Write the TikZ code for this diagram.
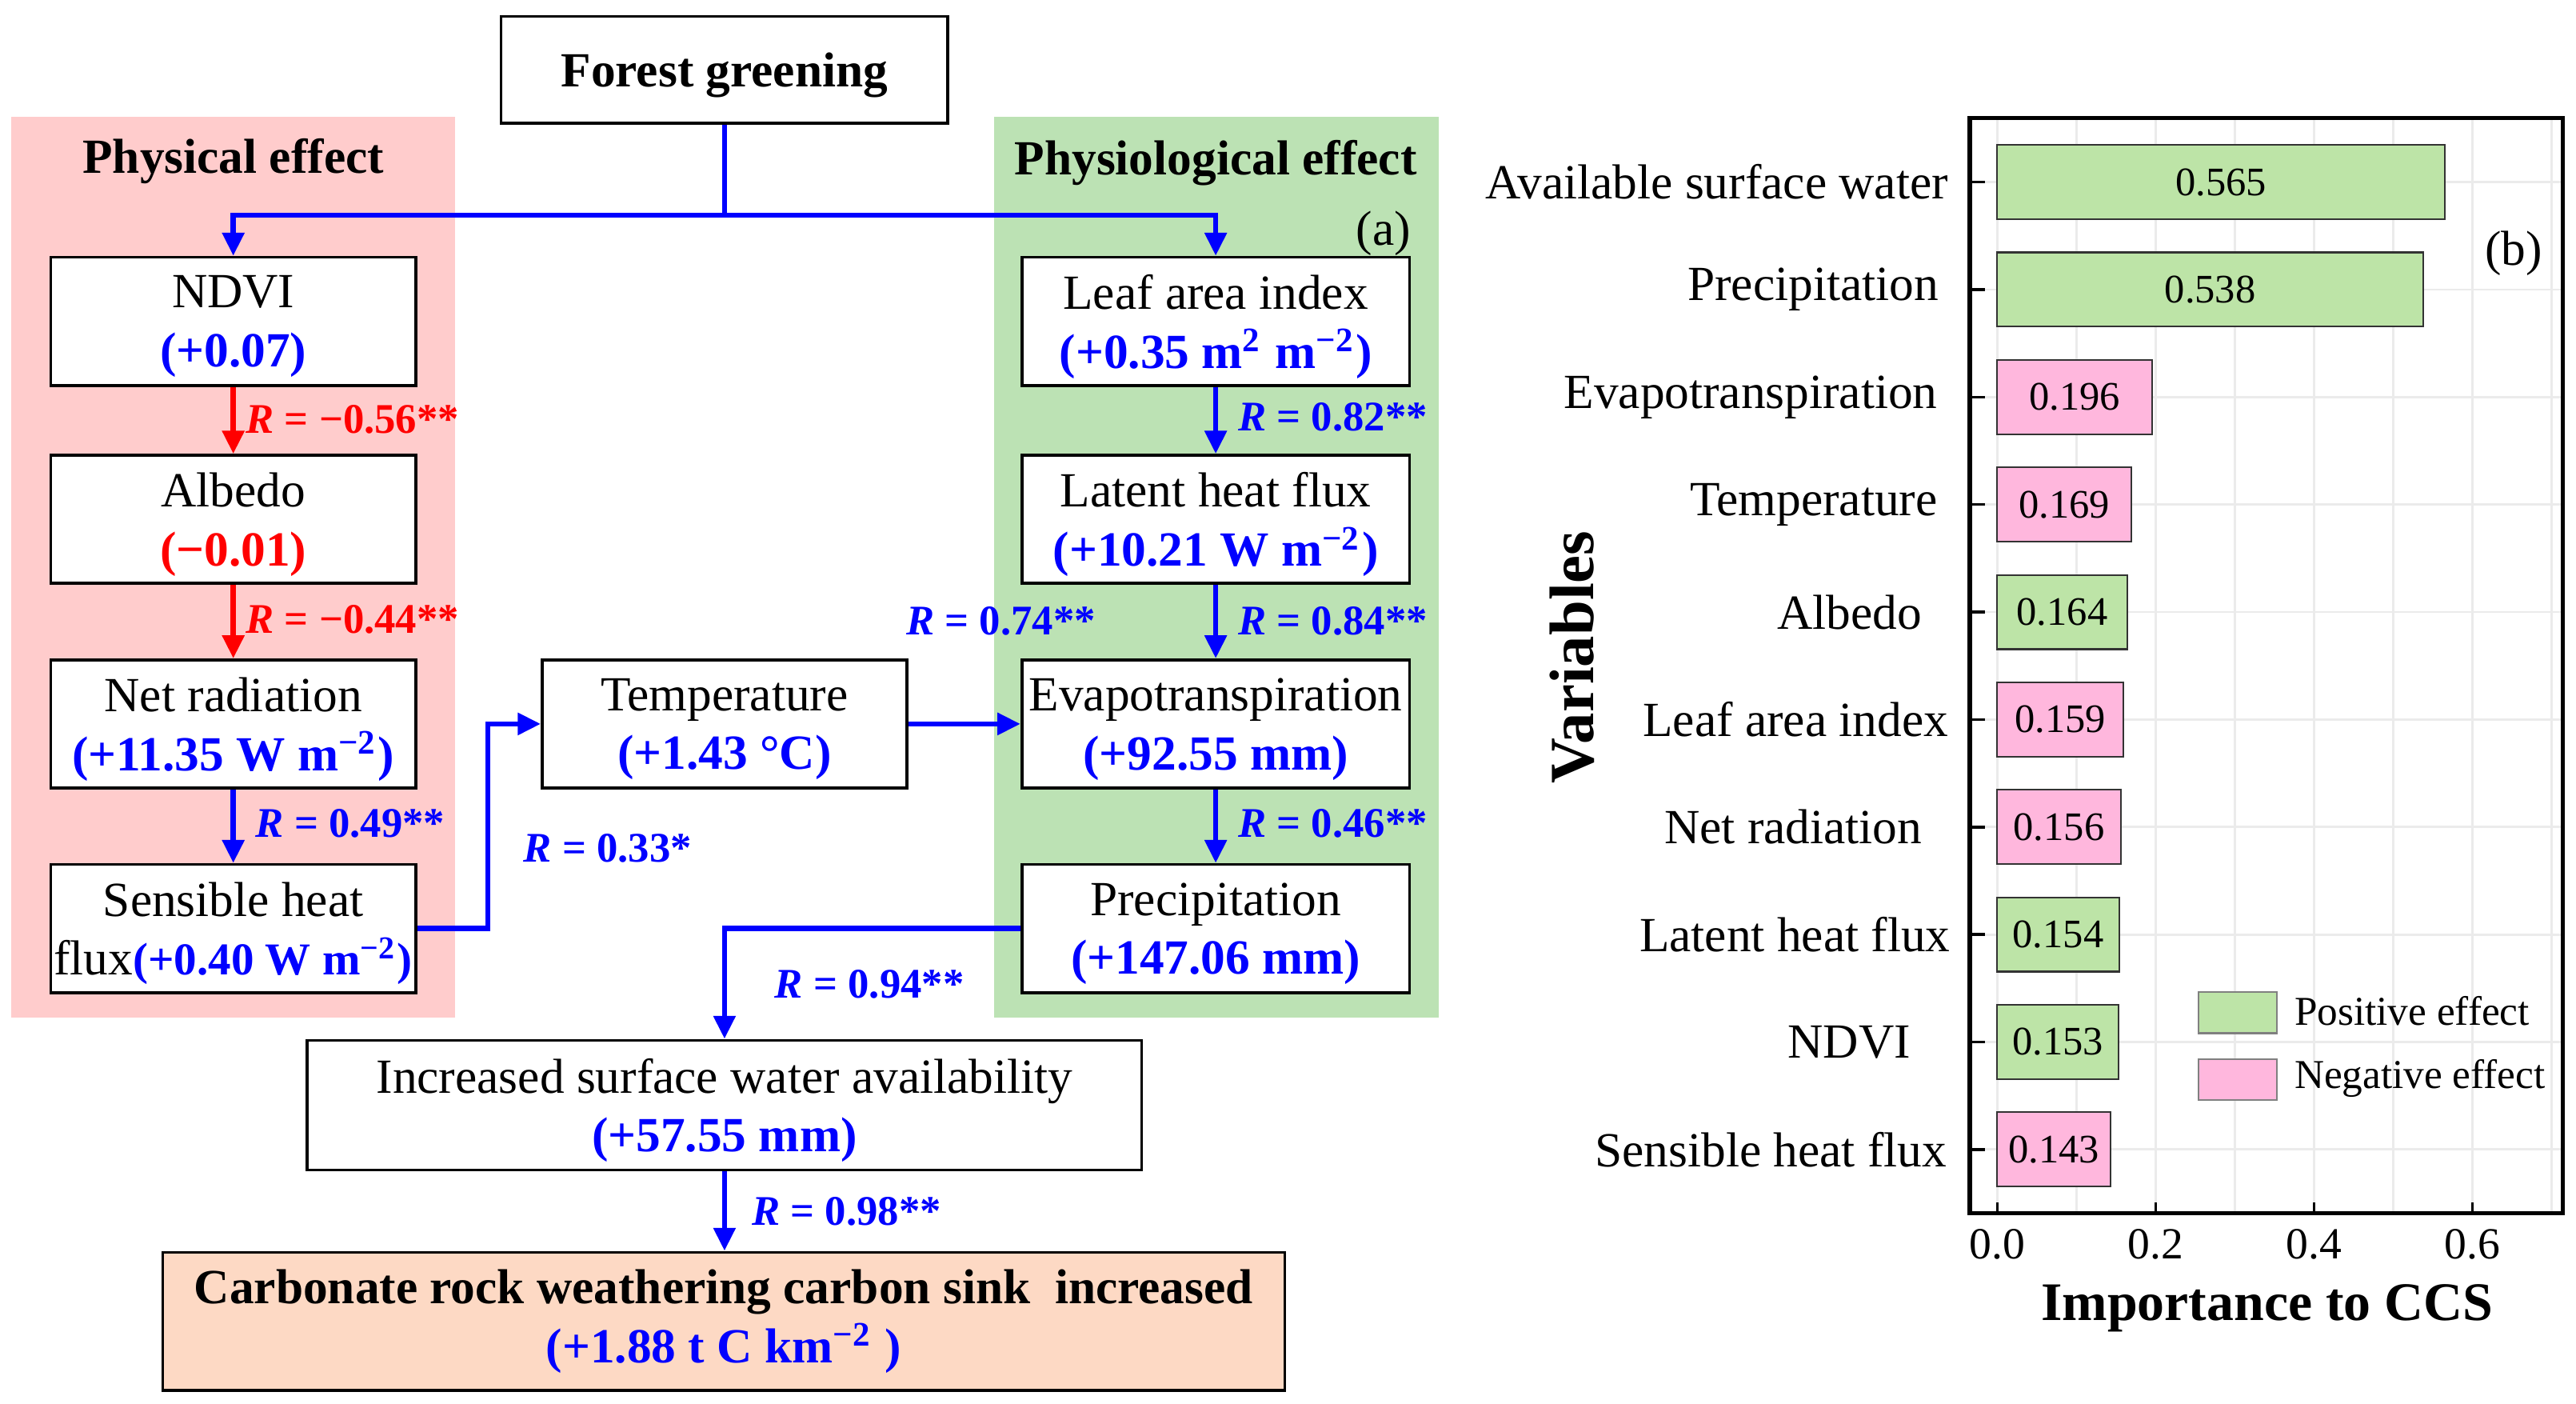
\documentclass[tikz,border=0pt]{standalone}
\usepackage{fontspec}
\setmainfont{Liberation Serif}
\usetikzlibrary{arrows.meta}

\definecolor{physpink}{RGB}{255,204,204}
\definecolor{physgreen}{RGB}{188,226,180}
\definecolor{bargreen}{RGB}{189,228,167}
\definecolor{barpink}{RGB}{255,183,221}
\definecolor{sinkfill}{RGB}{253,217,196}
\definecolor{gridgray}{RGB}{235,235,235}

\newcommand{\bval}[1]{{\color{blue}\bfseries #1}}

\tikzset{
  boxbase/.style={draw, line width=0.5pt, fill=white, align=center, inner sep=0pt},
  varbox/.style={boxbase, text depth=0pt, minimum width=22.2mm, minimum height=7.8mm},
  bluearr/.style={draw=blue, line width=0.9pt, -{Triangle[length=1.4mm,width=1.3mm]}},
  redarr/.style={bluearr, draw=red},
  rlab/.style={anchor=west, inner sep=0pt, font=\fontsize{7.3pt}{8.5pt}\selectfont\bfseries},
  barval/.style={inner sep=0pt, font=\fontsize{7pt}{8pt}\selectfont},
  ticklab/.style={inner sep=0pt, font=\fontsize{7.7pt}{9pt}\selectfont},
  leglab/.style={anchor=west, inner sep=0pt, font=\fontsize{7.1pt}{8.5pt}\selectfont}
}

\begin{document}
\begin{tikzpicture}[x=0.1mm,y=-0.1mm]
\fontsize{8.5pt}{10.2pt}\selectfont
\useasboundingbox (0,0) rectangle (1568,854.3);
% effect panels
\fill[physpink] (7,71) rectangle (277,619);
\fill[physgreen] (605,71) rectangle (876,619);
\node[font=\fontsize{8.5pt}{10.2pt}\selectfont\bfseries] (physical) at (142,98) {Physical effect};
\node[font=\fontsize{8.5pt}{10.2pt}\selectfont\bfseries] (physiological) at (740,99) {Physiological effect};
\node (panela) at (842,142) {(a)};
% boxes
\node[varbox, minimum width=27.2mm, minimum height=6.5mm, font=\fontsize{8.5pt}{10.2pt}\selectfont\bfseries] (forest) at (441,42.5) {Forest greening};
\node[varbox] (ndvi) at (142,195.5) {NDVI\\\bval{(+0.07)}};
\node[varbox] (albedo) at (142,316) {Albedo\\{\color{red}\bfseries(−0.01)}};
\node[varbox] (netrad) at (142,440.5) {Net radiation\\\bval{(+11.35 W m\textsuperscript{−2})}};
\node[varbox] (sensible) at (142,565) {Sensible heat\\flux{\fontsize{7.9pt}{10.2pt}\selectfont\bval{(+0.40 W m\textsuperscript{−2})}}};
\node[varbox] (temp) at (441,440.5) {Temperature\\\bval{(+1.43 °C)}};
\node[varbox, minimum width=23.6mm] (lai) at (740,195.5) {Leaf area index\\\bval{(+0.35 m\textsuperscript{2} m\textsuperscript{−2})}};
\node[varbox, minimum width=23.6mm] (latent) at (740,316) {Latent heat flux\\\bval{(+10.21 W m\textsuperscript{−2})}};
\node[varbox, minimum width=23.6mm] (et) at (740,440.5) {Evapotranspiration\\\bval{(+92.55 mm)}};
\node[varbox, minimum width=23.6mm] (precip) at (740,565) {Precipitation\\\bval{(+147.06 mm)}};
\node[varbox, minimum width=50.8mm, minimum height=7.9mm] (water) at (441,672.5) {Increased surface water availability\\\bval{(+57.55 mm)}};
\node[boxbase, fill=sinkfill, minimum width=68.3mm, minimum height=8.4mm] (sink) at (440.5,804) {\textbf{Carbonate rock weathering carbon sink\ \ increased}\\\bval{(+1.88 t C km\textsuperscript{−2} )}};
% connectors
\coordinate (split) at (441,131);
\draw[blue, line width=0.9pt] (forest.south) -- (split);
\draw[bluearr] (split) -| (ndvi.north);
\draw[bluearr] (split) -| (lai.north);
\draw[redarr] (ndvi) -- (albedo);
\draw[redarr] (albedo) -- (netrad);
\draw[bluearr] (netrad) -- (sensible);
\draw[bluearr] (sensible.east) -- ++(43,0) |- (temp.west);
\draw[bluearr] (temp) -- (et);
\draw[bluearr] (lai) -- (latent);
\draw[bluearr] (latent) -- (et);
\draw[bluearr] (et) -- (precip);
\draw[bluearr] (precip.west) -| (water.north);
\draw[bluearr] (water.south) -- (water.south |- sink.north);
% correlations
\node[rlab, red] (r1) at (149,255) {\textit{R} = −0.56**};
\node[rlab, red] (r2) at (149,377) {\textit{R} = −0.44**};
\node[rlab, blue] (r3) at (155,501) {\textit{R} = 0.49**};
\node[rlab, blue] (r4) at (318,516) {\textit{R} = 0.33*};
\node[rlab, blue] (r5) at (551,378) {\textit{R} = 0.74**};
\node[rlab, blue] (r6) at (753,254) {\textit{R} = 0.82**};
\node[rlab, blue] (r7) at (753,378) {\textit{R} = 0.84**};
\node[rlab, blue] (r8) at (753,501) {\textit{R} = 0.46**};
\node[rlab, blue] (r9) at (471,599) {\textit{R} = 0.94**};
\node[rlab, blue] (r10) at (457,737) {\textit{R} = 0.98**};
% importance plot
\foreach \gx in {0,...,7}
  \draw[gridgray, line width=0.4pt] ({1215.7+48.2*\gx},72) -- ({1215.7+48.2*\gx},738);
\foreach \i in {0,...,9}
  \draw[gridgray, line width=0.4pt] (1199,{110.8+65.4*\i}) -- (1560,{110.8+65.4*\i});
\foreach \lab/\imp/\col/\lx [count=\i from 0] in {
  Available surface water/0.565/bargreen/1186.5,
  Precipitation/0.538/bargreen/1180.7,
  Evapotranspiration/0.196/barpink/1180,
  Temperature/0.169/barpink/1180,
  Albedo/0.164/bargreen/1170.6,
  Leaf area index/0.159/barpink/1186.5,
  Net radiation/0.156/barpink/1170.6,
  Latent heat flux/0.154/bargreen/1187.8,
  NDVI/0.153/bargreen/1163.6,
  Sensible heat flux/0.143/barpink/1185.6}{
  \pgfmathsetmacro{\by}{110.8+65.4*\i}
  \draw[fill=\col, draw=black!80, line width=0.3pt] (1215.7,{\by-22.6}) rectangle ({1215.7+482*\imp},{\by+22.6});
  \node[barval] (bar\i) at ({1215.7+241*\imp},\by) {\imp};
  \draw[line width=0.5pt] (1199,\by) -- ++(9,0);
  \node[anchor=east, inner sep=0pt] (var\i) at (\lx,\by) {\lab};
}
\foreach \t [count=\k from 0] in {0.0,0.2,0.4,0.6}{
  \draw[line width=0.5pt] ({1215.7+96.4*\k},738) -- ++(0,-6.5);
  \node[ticklab] (tick\k) at ({1215.7+96.4*\k},757) {\t};
}
\draw[line width=0.7pt] (1199,72) rectangle (1560,738);
\node[rotate=90, font=\fontsize{10.9pt}{12pt}\selectfont\bfseries] (ylabel) at (957,400) {Variables};
\node[font=\fontsize{9.4pt}{11pt}\selectfont\bfseries] (xlabel) at (1380,796) {Importance to CCS};
\node (panelb) at (1530,154) {(b)};
% legend
\draw[fill=bargreen, draw=gray, line width=0.3pt] (1338.3,603.8) rectangle (1386,628.7);
\draw[fill=barpink, draw=gray, line width=0.3pt] (1338.3,644.4) rectangle (1386,669.5);
\node[leglab] (legpos) at (1396,615) {Positive effect};
\node[leglab] (legneg) at (1396,656) {Negative effect};
\end{tikzpicture}
\end{document}
